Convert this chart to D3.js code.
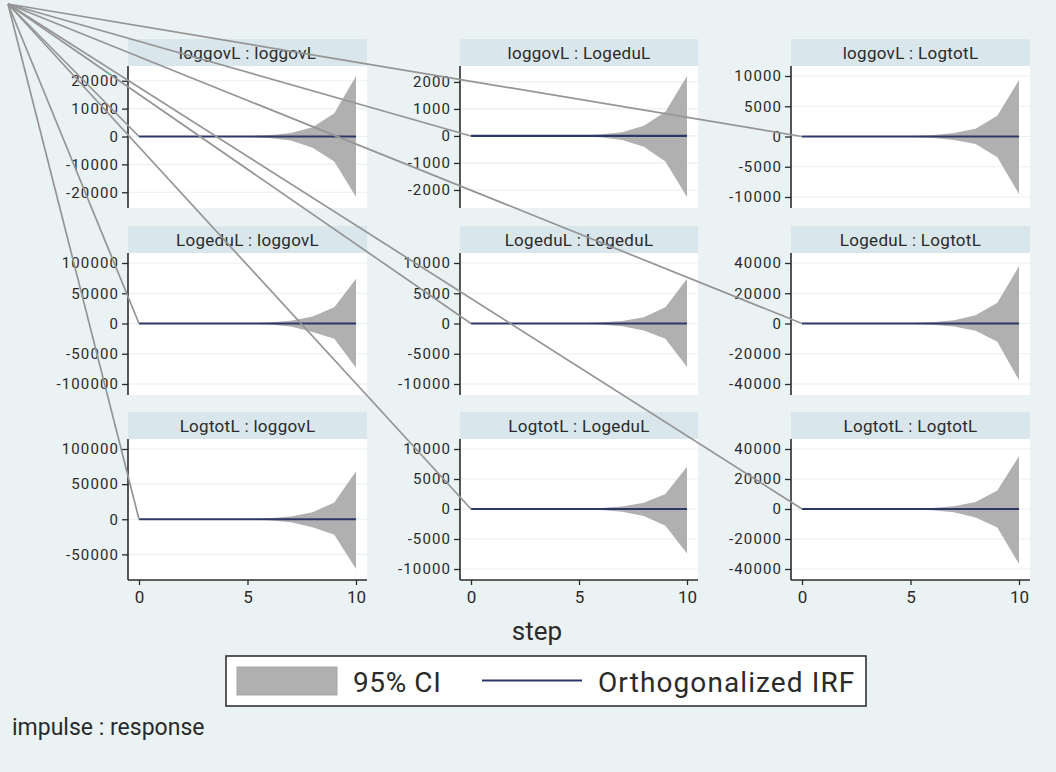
<!DOCTYPE html>
<html>
<head>
<meta charset="utf-8">
<script src="https://cdn.jsdelivr.net/npm/d3@7"></script>
<style>
  html, body { margin: 0; padding: 0; background: #eaf2f3; }
  svg { display: block; }
  text { font-family: Roboto, "Liberation Sans", sans-serif; fill: #2a2a2a; }
</style>
</head>
<body>
<svg id="chart" width="1056" height="772"></svg>
<script>
// ---------------- data ----------------
const steps = [0, 1, 2, 3, 4, 5, 6, 7, 8, 9, 10];
const impulses = ["loggovL", "LogeduL", "LogtotL"];
const responses = ["loggovL", "LogeduL", "LogtotL"];

// y tick labels, panel order: row = impulse, col = response
const yTicks1 = [-20000, -10000, 0, 10000, 20000];
const yTicks2 = [-2000, -1000, 0, 1000, 2000];
const yTicks3 = [-10000, -5000, 0, 5000, 10000];
const yTicks4 = [-100000, -50000, 0, 50000, 100000];
const yTicks5 = [-10000, -5000, 0, 5000, 10000];
const yTicks6 = [-40000, -20000, 0, 20000, 40000];
const yTicks7 = [-50000, 0, 50000, 100000];
const yTicks8 = [-10000, -5000, 0, 5000, 10000];
const yTicks9 = [-40000, -20000, 0, 20000, 40000];
const xTicks = [0, 5, 10];

// 95% CI upper / lower bounds per panel
const ciUpper1 = [0, 2, 6, 20, 60, 170, 480, 1300, 3300, 8300, 21700];
const ciLower1 = [0, -2, -6, -20, -60, -180, -500, -1400, -4000, -9000, -21700];
const ciUpper2 = [0, 0, 1, 2, 6, 18, 50, 140, 380, 900, 2220];
const ciLower2 = [0, 0, -1, -2, -6, -18, -52, -150, -400, -950, -2260];
const ciUpper3 = [0, 1, 3, 9, 27, 75, 210, 560, 1300, 3450, 9340];
const ciLower3 = [0, -1, -3, -9, -27, -75, -210, -580, -1250, -3450, -9500];
const ciUpper4 = [0, 6, 20, 65, 200, 580, 1600, 4500, 11500, 26700, 74000];
const ciLower4 = [0, -6, -20, -65, -200, -600, -1700, -5000, -14000, -25000, -73000];
const ciUpper5 = [0, 1, 2, 7, 20, 58, 160, 430, 1030, 2670, 7400];
const ciLower5 = [0, -1, -2, -7, -20, -60, -170, -460, -1150, -2500, -7200];
const ciUpper6 = [0, 3, 10, 30, 90, 260, 760, 2200, 5500, 13800, 37800];
const ciLower6 = [0, -3, -10, -30, -90, -260, -760, -2000, -4800, -12000, -37600];
const ciUpper7 = [0, 5, 16, 50, 150, 440, 1300, 3800, 10100, 23700, 68500];
const ciLower7 = [0, -5, -16, -50, -150, -460, -1400, -4200, -11500, -21900, -70800];
const ciUpper8 = [0, 1, 2, 7, 20, 55, 160, 420, 1030, 2500, 7050];
const ciLower8 = [0, -1, -2, -7, -20, -60, -170, -460, -1150, -2800, -7430];
const ciUpper9 = [0, 3, 9, 28, 85, 250, 700, 1900, 4600, 12260, 35200];
const ciLower9 = [0, -3, -9, -28, -85, -260, -760, -2200, -5700, -12260, -36700];

// orthogonalized IRF per panel (essentially zero at this scale)
const irf1 = [0, 0, 0, 0, 0, 0, 0, 0, 0, 0, 0];
const irf2 = [0, 0, 0, 0, 0, 0, 0, 0, 0, 0, 0];
const irf3 = [0, 0, 0, 0, 0, 0, 0, 0, 0, 0, 0];
const irf4 = [0, 0, 0, 0, 0, 0, 0, 0, 0, 0, 0];
const irf5 = [0, 0, 0, 0, 0, 0, 0, 0, 0, 0, 0];
const irf6 = [0, 0, 0, 0, 0, 0, 0, 0, 0, 0, 0];
const irf7 = [0, 0, 0, 0, 0, 0, 0, 0, 0, 0, 0];
const irf8 = [0, 0, 0, 0, 0, 0, 0, 0, 0, 0, 0];
const irf9 = [0, 0, 0, 0, 0, 0, 0, 0, 0, 0, 0];

const legendLabels = ["95% CI", "Orthogonalized IRF"];
const xTitle = "step";
const note = "impulse : response";

// ---------------- build ----------------
const yTicksAll = [yTicks1, yTicks2, yTicks3, yTicks4, yTicks5, yTicks6, yTicks7, yTicks8, yTicks9];
const upAll = [ciUpper1, ciUpper2, ciUpper3, ciUpper4, ciUpper5, ciUpper6, ciUpper7, ciUpper8, ciUpper9];
const loAll = [ciLower1, ciLower2, ciLower3, ciLower4, ciLower5, ciLower6, ciLower7, ciLower8, ciLower9];
const irfAll = [irf1, irf2, irf3, irf4, irf5, irf6, irf7, irf8, irf9];

const svg = d3.select("#chart");
const BG = "#eaf2f3", STRIP = "#d9e6ec", CI = "#b0b0b0", NAVY = "#2c3868", AXIS = "#2b2b2b";

svg.append("rect").attr("width", 1056).attr("height", 772).attr("fill", BG);

const colLeft = [128, 460, 791], colRight = [367, 698, 1030];
const stripTop = [39, 226, 412], stripH = 27;
const plotBottom = [208, 395, 580];

const origins = [];
const fmt = d => String(d);

impulses.forEach((imp, r) => {
  responses.forEach((resp, c) => {
    const k = r * 3 + c;
    const L = colLeft[c], R = colRight[c];
    const T = stripTop[r] + stripH, B = plotBottom[r];
    const g = svg.append("g");

    const rows = steps.map((s, i) => ({ s, up: upAll[k][i], lo: loAll[k][i], irf: irfAll[k][i] }));
    const ext = d3.extent([...upAll[k], ...loAll[k], ...yTicksAll[k]]);
    const x = d3.scaleLinear().domain([0, 10]).range([L + 11, R - 11]);
    const y = d3.scaleLinear().domain(ext).range([B - 11, T + 10]);

    // strip
    g.append("rect").attr("x", L).attr("y", stripTop[r]).attr("width", R - L).attr("height", stripH).attr("fill", STRIP);
    g.append("text").attr("x", (L + R) / 2).attr("y", stripTop[r] + 20)
      .attr("text-anchor", "middle").attr("font-size", 17).attr("letter-spacing", 0.3)
      .text(`${imp} : ${resp}`);
    // plot region
    g.append("rect").attr("x", L).attr("y", T).attr("width", R - L).attr("height", B - T).attr("fill", "#fff");
    // grid
    g.selectAll(".grid").data(yTicksAll[k]).join("line")
      .attr("x1", L).attr("x2", R).attr("y1", d => y(d)).attr("y2", d => y(d))
      .attr("stroke", "#e8f0f1").attr("stroke-width", 1.2);

    // CI area
    const area = d3.area().x(d => x(d.s)).y0(d => y(d.lo)).y1(d => y(d.up));
    g.append("path").datum(rows).attr("d", area).attr("fill", CI);
    // IRF line
    const line = d3.line().x(d => x(d.s)).y(d => y(d.irf));
    g.append("path").datum(rows).attr("d", line).attr("fill", "none").attr("stroke", NAVY).attr("stroke-width", 2.2);

    // y axis
    const ya = g.append("g").attr("transform", `translate(${L},0)`)
      .call(d3.axisLeft(y).tickValues(yTicksAll[k]).tickFormat(fmt).tickSize(6).tickPadding(3).tickSizeOuter(0));
    ya.select(".domain").remove();
    ya.selectAll(".tick line").attr("stroke", AXIS).attr("stroke-width", 1.3);
    ya.selectAll(".tick text").attr("font-size", 15).attr("letter-spacing", 1.1)
      .attr("font-family", "Roboto, sans-serif").attr("fill", "#2a2a2a");
    g.append("line").attr("x1", L).attr("x2", L).attr("y1", T).attr("y2", B)
      .attr("stroke", AXIS).attr("stroke-width", 1.6);

    // x axis only on bottom row
    if (r === 2) {
      const xa = g.append("g").attr("transform", `translate(0,${B})`)
        .call(d3.axisBottom(x).tickValues(xTicks).tickFormat(fmt).tickSize(5).tickPadding(6).tickSizeOuter(0));
      xa.select(".domain").remove();
      xa.selectAll(".tick line").attr("stroke", AXIS).attr("stroke-width", 1.3);
      xa.selectAll(".tick text").attr("font-size", 17).attr("font-family", "Roboto, sans-serif").attr("fill", "#2a2a2a");
      g.append("line").attr("x1", L).attr("x2", R).attr("y1", B).attr("y2", B)
        .attr("stroke", AXIS).attr("stroke-width", 1.6);
    }
    origins.push([x(0), y(0)]);
  });
});

// stray connector lines from the top-left corner to each panel's origin
svg.append("g").selectAll("line").data(origins).join("line")
  .attr("x1", 8).attr("y1", 4).attr("x2", d => d[0]).attr("y2", d => d[1])
  .attr("stroke", "#959595").attr("stroke-width", 1.7);

// x title
svg.append("text").attr("x", 537).attr("y", 640).attr("text-anchor", "middle")
  .attr("font-size", 26).text(xTitle);

// legend
const lg = svg.append("g");
lg.append("rect").attr("x", 226).attr("y", 656).attr("width", 640).attr("height", 50)
  .attr("fill", "#fff").attr("stroke", "#333").attr("stroke-width", 1.6);
lg.append("rect").attr("x", 237).attr("y", 667).attr("width", 100).attr("height", 28)
  .attr("fill", CI).attr("stroke", "#a8a8a8").attr("stroke-width", 1);
lg.append("text").attr("x", 353).attr("y", 692).attr("font-size", 28).attr("letter-spacing", 0.6).text(legendLabels[0]);
lg.append("line").attr("x1", 482).attr("x2", 582).attr("y1", 680.5).attr("y2", 680.5)
  .attr("stroke", NAVY).attr("stroke-width", 2);
lg.append("text").attr("x", 598).attr("y", 692).attr("font-size", 28).attr("letter-spacing", 1.1).text(legendLabels[1]);

// note
svg.append("text").attr("x", 12).attr("y", 735).attr("font-size", 23).text(note);
</script>
</body>
</html>
